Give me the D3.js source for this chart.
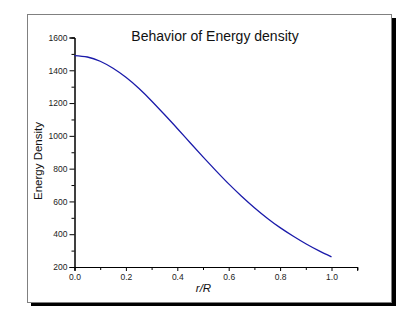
<!DOCTYPE html>
<html>
<head>
<meta charset="utf-8">
<script src="https://cdn.jsdelivr.net/npm/d3@7"></script>
<style>
  body { margin: 0; background: #fff; }
  svg { display: block; font-family: "Liberation Sans", Arial, sans-serif; }
</style>
</head>
<body>
<div class="canvas"></div>
<script>
// data
const radius = [0, 0.05, 0.1, 0.15, 0.2, 0.25, 0.3, 0.35, 0.4, 0.45, 0.5,
  0.55, 0.6, 0.65, 0.7, 0.75, 0.8, 0.85, 0.9, 0.95, 1.0];
const energy = [1490, 1481, 1455, 1412, 1357, 1290, 1213, 1130, 1045, 958, 872,
  788, 707, 632, 562, 498, 440, 389, 342, 300, 262];
const xTicks = [0, 0.2, 0.4, 0.6, 0.8, 1.0];
const yTicks = [200, 400, 600, 800, 1000, 1200, 1400, 1600];

const width = 415;
const height = 321;

// plot area
const margin = { top: 37.5, left: 74.5 };
const graphWidth = 282.7;
const graphHeight = 229.5;

const svg = d3.select('.canvas')
  .append('svg')
  .attr('width', width)
  .attr('height', height);

// frame with shadow
svg.append('rect')
  .attr('x', 31).attr('y', 18)
  .attr('width', 365).attr('height', 288)
  .attr('fill', '#000');
svg.append('rect')
  .attr('x', 27.5).attr('y', 14.5)
  .attr('width', 364).attr('height', 288)
  .attr('fill', '#fff')
  .attr('stroke', '#808080')
  .attr('stroke-width', 1);

const graph = svg.append('g')
  .attr('transform', `translate(${margin.left}, ${margin.top})`);

// scales
const x = d3.scaleLinear().domain([0, 1.1]).range([0, graphWidth]);
const y = d3.scaleLinear().domain([200, 1600]).range([graphHeight, 0]);

// minor ticks first
const xMinor = graph.append('g')
  .attr('transform', `translate(0, ${graphHeight})`)
  .call(d3.axisBottom(x).tickValues(d3.range(0.1, 1.15, 0.2)).tickSize(3).tickFormat(''));
const yMinor = graph.append('g')
  .call(d3.axisLeft(y).tickValues(d3.range(300, 1600, 200)).tickSize(3).tickFormat(''));

// major axes
const xAxisGroup = graph.append('g')
  .attr('class', 'x-axis')
  .attr('transform', `translate(0, ${graphHeight})`)
  .call(d3.axisBottom(x).tickValues(xTicks).tickSize(4).tickPadding(3)
    .tickFormat(d3.format('.1f')));
const yAxisGroup = graph.append('g')
  .attr('class', 'y-axis')
  .call(d3.axisLeft(y).tickValues(yTicks).tickSize(5).tickPadding(2)
    .tickFormat(d3.format('d')));

[xMinor, yMinor, xAxisGroup, yAxisGroup].forEach(g => {
  g.select('.domain').attr('stroke', '#000').attr('stroke-width', 1);
  g.selectAll('.tick line').attr('stroke', '#000');
  g.selectAll('text')
    .attr('font-size', '8.5px')
    .attr('font-family', '"Liberation Sans", Arial, sans-serif')
    .attr('fill', '#222');
});

// line
const line = d3.line()
  .x((d, i) => x(radius[i]))
  .y(d => y(d))
  .curve(d3.curveNatural);

graph.append('path')
  .datum(energy)
  .attr('fill', 'none')
  .attr('stroke', '#1a1aaa')
  .attr('stroke-width', 1.3)
  .attr('d', line);

// title and axis labels
svg.append('text')
  .attr('x', 215).attr('y', 41)
  .attr('text-anchor', 'middle')
  .attr('font-size', '14px')
  .attr('fill', '#111')
  .text('Behavior of Energy density');

svg.append('text')
  .attr('transform', 'translate(42, 161) rotate(-90)')
  .attr('text-anchor', 'middle')
  .attr('font-size', '11.5px')
  .attr('fill', '#111')
  .text('Energy Density');

svg.append('text')
  .attr('x', 203.5).attr('y', 292)
  .attr('text-anchor', 'middle')
  .attr('font-size', '11.5px')
  .attr('font-style', 'italic')
  .attr('fill', '#111')
  .text('r/R');
</script>
</body>
</html>
